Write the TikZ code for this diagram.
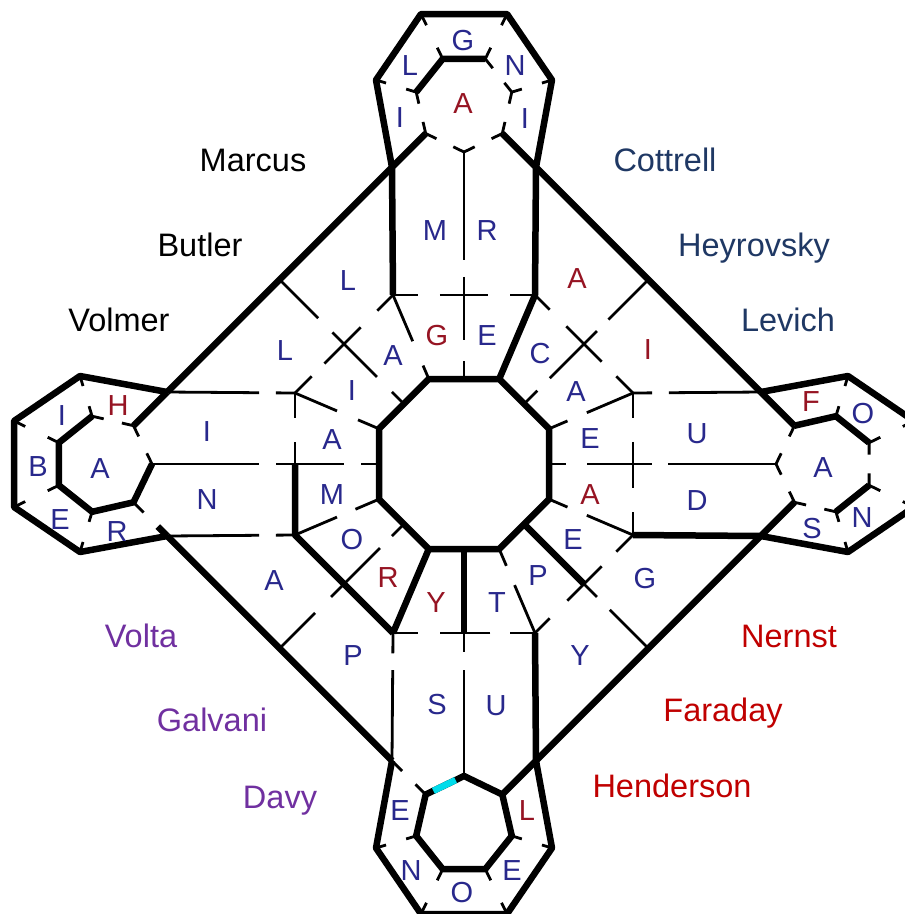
\documentclass[tikz,border=0pt]{standalone}
\usepackage{fontspec}
\setmainfont{Liberation Sans}
\usetikzlibrary{calc}
\definecolor{lb}{RGB}{40,40,140}
\definecolor{lr}{RGB}{150,20,35}
\definecolor{nblue}{RGB}{31,56,100}
\definecolor{npurple}{RGB}{112,48,160}
\definecolor{nred}{RGB}{192,0,0}
\definecolor{hcyan}{RGB}{0,220,235}
\newcommand\gw[5]{\draw[#1] (#2) -- ($(#2)!#4!(#3)$) ($(#2)!#5!(#3)$) -- (#3);}
\begin{document}
\begin{tikzpicture}[x=1pt,y=-1pt,
  thk/.style={line width=6.5pt,line join=round},
  thn/.style={line width=2.8pt},
  lt/.style={font=\fontsize{29}{29}\selectfont,inner sep=0pt,anchor=base},
  nm/.style={font=\fontsize{32.5}{34}\selectfont,inner sep=0pt,anchor=base}]
\useasboundingbox (0,0) rectangle (905,914);
\clip (0,0) rectangle (905,914);
\fill[white] (0,0) rectangle (905,914);
% ---------- coordinates for the four arms ----------
\foreach \n/\a in {T/0,L/90,B/180,R/-90}{
 \begin{scope}[shift={(464,464)},rotate=\a]
  \coordinate (\n-h0) at (0,-312);
  \coordinate (\n-h1) at (38.3,-330.5);
  \coordinate (\n-h2) at (47.8,-371.9);
  \coordinate (\n-h3) at (21.3,-405.1);
  \coordinate (\n-h4) at (-21.3,-405.1);
  \coordinate (\n-h5) at (-47.8,-371.9);
  \coordinate (\n-h6) at (-38.3,-330.5);
  \coordinate (\n-ql) at (-88,-384);
  \coordinate (\n-qtl) at (-43,-450);
  \coordinate (\n-qtr) at (43,-450);
  \coordinate (\n-qr) at (88,-384);
  \coordinate (\n-qbl) at (-72,-296.8);
  \coordinate (\n-qbr) at (72,-296.8);
  \coordinate (\n-JL) at (-71,-169);
  \coordinate (\n-JR) at (71,-169);
  \coordinate (\n-C) at (0,-169);
  \coordinate (\n-OL) at (-35.2,-85);
  \coordinate (\n-OR) at (35.2,-85);
  \coordinate (\n-Om) at (0,-85);
  \coordinate (\n-Dm) at (-60.1,-60.1);
  \coordinate (\n-X) at (-120,-120);
  \coordinate (\n-D) at (-184.4,-184.4);
 \end{scope}
}
% ---------- common outlines ----------
\foreach \n in {T,L,B,R}{
 \draw[thk] (\n-qbl) -- (\n-ql) -- (\n-qtl) -- (\n-qtr) -- (\n-qr) -- (\n-qbr);
 \gw{thn}{\n-h2}{\n-qr}{.25}{.75}
 \gw{thn}{\n-h3}{\n-qtr}{.25}{.75}
 \gw{thn}{\n-h4}{\n-qtl}{.25}{.75}
 \gw{thn}{\n-h5}{\n-ql}{.25}{.75}
}
\draw[thk] (T-qbl) -- (L-qbr);
\draw[thk] (L-qbl) -- (B-qbr);
\draw[thk] (B-qbl) -- (R-qbr);
\draw[thk] (R-qbl) -- (T-qbr);
\draw[thk] (T-OL) -- (T-OR) -- (R-OL) -- (R-OR) -- (B-OL) -- (B-OR) -- (L-OL) -- (L-OR) -- cycle;
% ---------- top ----------
\draw[thk] (T-h3) -- (T-h4) -- (T-h5);
\gw{thn}{T-h5}{T-h6}{.28}{.72}
\gw{thn}{T-h6}{T-h0}{.28}{.72}
\gw{thn}{T-h0}{T-h1}{.28}{.72}
\gw{thn}{T-h1}{T-h2}{.28}{.72}
\gw{thn}{T-h2}{T-h3}{.28}{.72}
\draw[thk] (T-h6) -- (T-qbl) -- (T-JL);
\draw[thk] (T-h1) -- (T-qbr) -- (T-JR) -- (T-OR);
\gw{thn}{T-h0}{T-C}{.755}{.874}
\gw{thn}{T-C}{T-Om}{.53}{.79}
\gw{thn}{T-JL}{T-C}{.35}{.66}
\gw{thn}{T-C}{T-JR}{.34}{.65}
\gw{thn}{T-JL}{T-OL}{.55}{.84}
\gw{thn}{T-JL}{T-X}{.32}{.66}
\gw{thn}{T-X}{L-JR}{.4}{.66}
\gw{thn}{T-Dm}{T-X}{.2}{.45}
\gw{thn}{T-X}{T-D}{.18}{.4}
% ---------- left ----------
\draw[thk] (L-h2) -- (L-h3) -- (L-h4) -- (L-h5) -- (L-h6) -- (L-h0);
\gw{thn}{L-h0}{L-h1}{.28}{.72}
\gw{thn}{L-h1}{L-h2}{.28}{.72}
\draw[thk] (L-h1) -- (L-qbr);
\draw[thn] (L-h6) -- ($(L-h6)!.3!(L-qbl)$);
\draw[thk] ($(L-h6)!.72!(L-qbl)$) -- (L-qbl);
\gw{thn}{L-JL}{L-qbl}{.15}{.28}
\gw{thn}{L-JR}{L-qbr}{.15}{.28}
\gw{thn}{L-h0}{L-C}{.75}{.87}
\gw{thn}{L-C}{L-Om}{.58}{.79}
\draw[thk] (L-C) -- (L-JL) -- (L-X) -- (B-JR);
\gw{thn}{L-C}{L-JR}{.31}{.65}
\gw{thn}{L-JL}{L-OL}{.5}{.72}
\gw{thn}{L-JR}{L-OR}{.5}{.75}
\gw{thn}{L-Dm}{L-X}{.2}{.4}
\gw{thn}{L-X}{L-D}{.2}{.45}
% ---------- bottom ----------
\draw[thk] (B-h0) -- (B-h1) -- (B-h2) -- (B-h3) -- (B-h4) -- (B-h5) -- (B-h6) -- cycle;
\draw[line width=6.5pt,hcyan] ($(B-h0)!.22!(B-h1)$) -- ($(B-h0)!.8!(B-h1)$);
\draw[thn] (B-h1) -- ($(B-h1)!.3!(B-qbr)$);
\draw[thn] ($(B-h1)!.7!(B-qbr)$) -- (B-qbr);
\draw[thk] (B-h6) -- (B-qbl) -- (B-JL);
\gw{thn}{B-JR}{B-qbr}{.16}{.29}
\gw{thn}{B-h0}{B-C}{.74}{.87}
\draw[thk] (B-C) -- (B-Om);
\gw{thn}{B-JL}{B-C}{.35}{.63}
\gw{thn}{B-C}{B-JR}{.34}{.65}
\gw{thn}{B-JL}{B-OL}{.57}{.8}
\draw[thk] (B-JR) -- (B-OR);
\gw{thn}{B-JL}{B-X}{.3}{.66}
\gw{thn}{B-X}{R-JR}{.36}{.66}
\draw[thk] (B-Dm) -- (B-X);
\gw{thn}{B-X}{B-D}{.2}{.4}
% ---------- right ----------
\draw[thk] (R-h6) -- (R-h5) -- (R-h4);
\draw[thk] (R-h3) -- (R-h2);
\gw{thn}{R-h4}{R-h3}{.28}{.72}
\gw{thn}{R-h2}{R-h1}{.28}{.72}
\gw{thn}{R-h1}{R-h0}{.28}{.72}
\gw{thn}{R-h0}{R-h6}{.28}{.72}
\draw[thk] (R-h6) -- (R-qbl);
\draw[thk] (R-h1) -- (R-qbr) -- (R-JR);
\gw{thn}{R-JL}{R-qbl}{.15}{.28}
\gw{thn}{R-h0}{R-C}{.755}{.87}
\gw{thn}{R-C}{R-Om}{.55}{.8}
\gw{thn}{R-JL}{R-C}{.35}{.69}
\gw{thn}{R-C}{R-JR}{.34}{.68}
\gw{thn}{R-JL}{R-OL}{.55}{.78}
\gw{thn}{R-JR}{R-OR}{.55}{.78}
\gw{thn}{R-JL}{R-X}{.34}{.64}
\gw{thn}{R-X}{T-JR}{.36}{.7}
\gw{thn}{R-Dm}{R-X}{.22}{.43}
\gw{thn}{R-X}{R-D}{.2}{.38}
% ---------- letters ----------
\foreach \x/\y/\t/\c [count=\i] in {
 463/40/G/lb, 410/65/L/lb, 515/65/N/lb, 400/117/I/lb, 525/118/I/lb, 463/103/A/lr,
 435/230/M/lb, 487/230/R/lb, 437/335/G/lr, 487/335/E/lb,
 348/280/L/lb, 285/350/L/lb, 393/355/A/lb, 352/390/I/lb,
 577/278/A/lr, 648/349/I/lr, 540/353/C/lb, 576/391/A/lb,
 118/405/H/lr, 62/415/I/lb, 38/466/B/lb, 100/468/A/lb, 60/519/E/lb, 117/531/R/lb,
 207/431/I/lb, 207/499/N/lb, 332/439/A/lb, 332/494/M/lb,
 697/433/U/lb, 697/500/D/lb, 590/438/E/lb, 590/494/A/lr,
 811/401/F/lr, 863/413/O/lb, 823/467/A/lb, 812/528/S/lb, 862/517/N/lb,
 352/539/O/lb, 388/577/R/lr, 274/580/A/lb, 353/655/P/lb,
 573/539/E/lb, 538/575/P/lb, 645/578/G/lb, 580/655/Y/lb,
 436/602/Y/lr, 497/602/T/lb, 437/704/S/lb, 496/705/U/lb,
 400/810/E/lb, 527/810/L/lr, 411/870/N/lb, 462/892/O/lb, 512/870/E/lb}
 \node[lt,text=\c] (let\i) at (\x,\y+10.4) {\t};
% ---------- names ----------
\node[nm,text=black] (nMarcus) at (253,171) {Marcus};
\node[nm,text=black] (nButler) at (200,256) {Butler};
\node[nm,text=black] (nVolmer) at (119,331) {Volmer};
\node[nm,text=nblue] (nCottrell) at (665,171) {Cottrell};
\node[nm,text=nblue] (nHeyrovsky) at (754,256) {Heyrovsky};
\node[nm,text=nblue] (nLevich) at (788,331) {Levich};
\node[nm,text=npurple] (nVolta) at (141,647) {Volta};
\node[nm,text=npurple] (nGalvani) at (212,731) {Galvani};
\node[nm,text=npurple] (nDavy) at (280,808) {Davy};
\node[nm,text=nred] (nNernst) at (789,647) {Nernst};
\node[nm,text=nred] (nFaraday) at (723,721) {Faraday};
\node[nm,text=nred] (nHenderson) at (672,797) {Henderson};
\end{tikzpicture}
\end{document}
